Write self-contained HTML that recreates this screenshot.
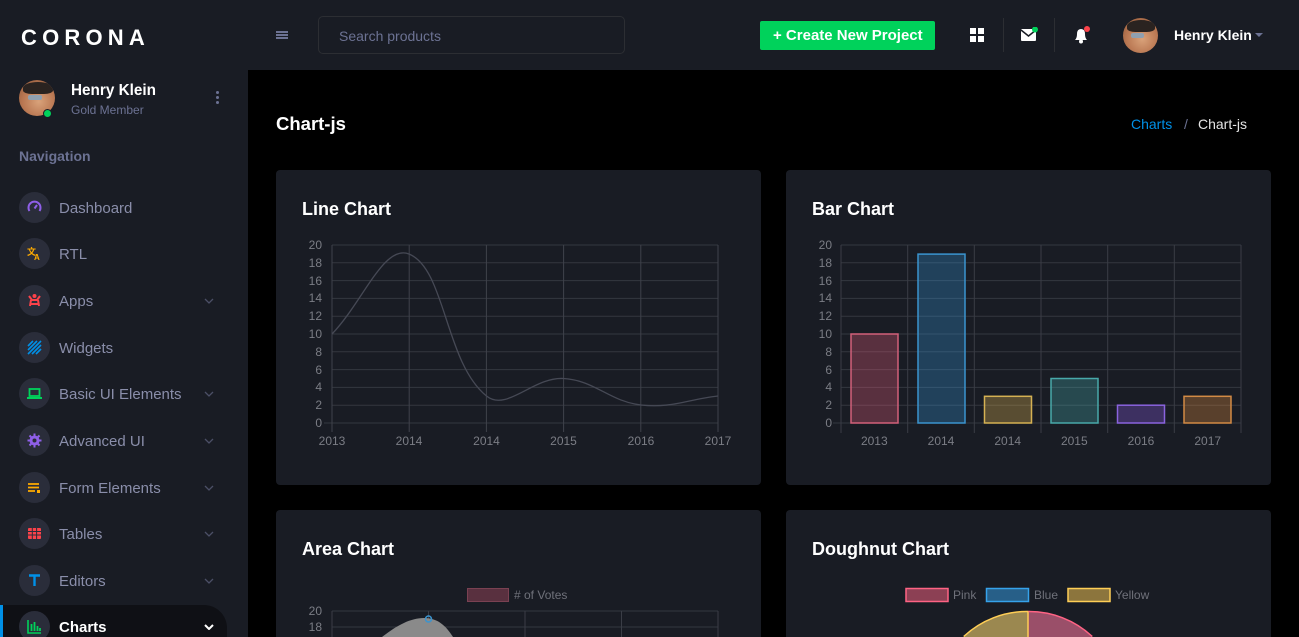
<!DOCTYPE html>
<html>
<head>
<meta charset="utf-8">
<style>
*{margin:0;padding:0;box-sizing:border-box}
html,body{width:1299px;height:637px;overflow:hidden;background:#000;font-family:"Liberation Sans",Arial,sans-serif;position:relative}
.abs{position:absolute}
#sidebar{left:0;top:0;width:248px;height:637px;background:#191c24;overflow:hidden}
#navbar{left:248px;top:0;width:1051px;height:70px;background:#191c24}
.card{position:absolute;background:#191c24;border-radius:4px}
.t{position:absolute;white-space:nowrap;line-height:1}
.nav-item{position:absolute;left:0;width:248px;height:46px;overflow:hidden}
.nav-ic{position:absolute;left:19px;top:7px;width:31px;height:31px;border-radius:50%;background:#2a2d3a}
.nav-ic svg{position:absolute;left:8px;top:8px}
.nav-tx{position:absolute;left:59px;top:15px;font-size:15px;color:#8a8eaa}
.chev{position:absolute;left:204px;top:20px}
</style>
</head>
<body>
<div id="sidebar" class="abs">
  <div class="t" style="left:21px;top:27px;font-size:22px;font-weight:bold;color:#fff;letter-spacing:5.2px">CORONA</div>
  <div class="abs" style="left:19px;top:80px;width:36px;height:36px;border-radius:50%;background:radial-gradient(circle at 55% 60%,#d9a27a 0,#b97752 55%,#8a5536 100%);overflow:hidden">
    <div class="abs" style="left:4px;top:2px;width:30px;height:12px;border-radius:50% 50% 30% 30%;background:#2a2320"></div>
    <div class="abs" style="left:9px;top:15px;width:14px;height:5px;border-radius:2px;background:#8fa0b0"></div>
  </div>
  <div class="abs" style="left:43px;top:109px;width:9px;height:9px;border-radius:50%;background:#00d25b;border:1px solid #191c24"></div>
  <div class="t" style="left:71px;top:83px;font-size:15.3px;font-weight:bold;color:#fff">Henry Klein</div>
  <div class="t" style="left:71px;top:104px;font-size:12px;color:#6c7293">Gold Member</div>
  <div class="abs" style="left:216px;top:91px;width:3px;height:3px;border-radius:50%;background:#6c7293;box-shadow:0 5px 0 #6c7293,0 10px 0 #6c7293"></div>
  <div class="t" style="left:19px;top:149px;font-size:14px;font-weight:bold;color:#6c7293">Navigation</div>

  <div class="nav-item" style="top:185px"><div class="nav-ic"><svg width="15" height="15" viewBox="0 0 15 15"><path d="M2.5 11 A6 6 0 1 1 12.5 11" fill="none" stroke="#8f5fe8" stroke-width="2"/><line x1="7.5" y1="8.5" x2="10" y2="5" stroke="#8f5fe8" stroke-width="2"/></svg></div><div class="nav-tx">Dashboard</div></div>
  <div class="nav-item" style="top:231px"><div class="nav-ic"><svg width="15" height="15" viewBox="0 0 15 15"><text x="0" y="9" font-size="9" font-weight="bold" fill="#ffab00" font-family="Noto Sans CJK SC, sans-serif">文</text><text x="7" y="14" font-size="8" font-weight="bold" fill="#ffab00" font-family="Liberation Sans">A</text></svg></div><div class="nav-tx">RTL</div></div>
  <div class="nav-item" style="top:278px"><div class="nav-ic"><svg width="15" height="15" viewBox="0 0 15 15"><circle cx="7.5" cy="3" r="2" fill="#fc424a"/><path d="M2 3 L5 7 L10 7 L13 3 M4 7 L3 13 M11 7 L12 13 M4 11 H11" stroke="#fc424a" stroke-width="2" fill="none"/></svg></div><div class="nav-tx">Apps</div><svg class="chev" width="10" height="6"><polyline points="1,1 5,5 9,1" fill="none" stroke="#4b4f66" stroke-width="1.3"/></svg></div>
  <div class="nav-item" style="top:325px"><div class="nav-ic"><svg width="15" height="15" viewBox="0 0 15 15"><path d="M1 6 L6 1 M1 10 L10 1 M1 14 L14 1 M5 14 L14 5 M9 14 L14 9" stroke="#0090e7" stroke-width="1.6"/></svg></div><div class="nav-tx">Widgets</div></div>
  <div class="nav-item" style="top:371px"><div class="nav-ic"><svg width="15" height="15" viewBox="0 0 15 15"><rect x="2.5" y="3" width="10" height="7" fill="none" stroke="#00d25b" stroke-width="1.8"/><rect x="0" y="11" width="15" height="2" fill="#00d25b"/></svg></div><div class="nav-tx">Basic UI Elements</div><svg class="chev" width="10" height="6"><polyline points="1,1 5,5 9,1" fill="none" stroke="#4b4f66" stroke-width="1.3"/></svg></div>
  <div class="nav-item" style="top:418px"><div class="nav-ic"><svg width="15" height="15" viewBox="0 0 15 15"><circle cx="7.5" cy="7.5" r="5" fill="#8f5fe8"/><path d="M7.5 0.5 V14.5 M0.5 7.5 H14.5 M2.5 2.5 L12.5 12.5 M12.5 2.5 L2.5 12.5" stroke="#8f5fe8" stroke-width="2"/><circle cx="7.5" cy="7.5" r="2" fill="#2a2d3a"/></svg></div><div class="nav-tx">Advanced UI</div><svg class="chev" width="10" height="6"><polyline points="1,1 5,5 9,1" fill="none" stroke="#4b4f66" stroke-width="1.3"/></svg></div>
  <div class="nav-item" style="top:465px"><div class="nav-ic"><svg width="15" height="15" viewBox="0 0 15 15"><path d="M1 4 H12 M1 7.5 H12 M1 11 H8" stroke="#ffab00" stroke-width="1.8"/><rect x="10" y="10" width="3" height="3" fill="#ffab00"/></svg></div><div class="nav-tx">Form Elements</div><svg class="chev" width="10" height="6"><polyline points="1,1 5,5 9,1" fill="none" stroke="#4b4f66" stroke-width="1.3"/></svg></div>
  <div class="nav-item" style="top:511px"><div class="nav-ic"><svg width="15" height="15" viewBox="0 0 15 15"><rect x="1" y="2" width="13" height="11" rx="1" fill="#fc424a"/><path d="M1 5.5 H14 M1 9 H14 M5.3 2 V13 M9.6 2 V13" stroke="#2a2d3a" stroke-width="1"/></svg></div><div class="nav-tx">Tables</div><svg class="chev" width="10" height="6"><polyline points="1,1 5,5 9,1" fill="none" stroke="#4b4f66" stroke-width="1.3"/></svg></div>
  <div class="nav-item" style="top:558px"><div class="nav-ic"><svg width="15" height="15" viewBox="0 0 15 15"><path d="M2 2.5 H13 M7.5 2.5 V13" stroke="#0090e7" stroke-width="2.4"/></svg></div><div class="nav-tx">Editors</div><svg class="chev" width="10" height="6"><polyline points="1,1 5,5 9,1" fill="none" stroke="#4b4f66" stroke-width="1.3"/></svg></div>
  <div class="abs" style="left:0;top:605px;width:227px;height:32px;background:#0f1015;border-radius:0 23px 0 0"></div>
  <div class="abs" style="left:0;top:605px;width:3px;height:32px;background:#0090e7"></div>
  <div class="nav-item" style="top:604px;height:33px"><div class="nav-ic"><svg width="15" height="15" viewBox="0 0 15 15"><path d="M1 1 V14 H14" stroke="#00d25b" stroke-width="1.6" fill="none"/><path d="M4.5 12 V5 M7.5 12 V3 M10.5 12 V7 M13 12 V9" stroke="#00d25b" stroke-width="1.8"/></svg></div><div class="nav-tx" style="color:#fff;font-weight:bold">Charts</div><svg class="chev" width="10" height="6"><polyline points="1,1 5,5 9,1" fill="none" stroke="#fff" stroke-width="2"/></svg></div>
</div>

<div id="navbar" class="abs">
  <div class="abs" style="left:28px;top:31px;width:12px;height:2px;background:#6c7293;box-shadow:0 3px 0 #6c7293,0 6px 0 #6c7293"></div>
  <div class="abs" style="left:70px;top:16px;width:307px;height:38px;border:1px solid #2c2e33;border-radius:5px"></div>
  <div class="t" style="left:91px;top:29px;font-size:14px;color:#6c7293">Search products</div>
  <div class="abs" style="left:512px;top:21px;width:175px;height:29px;background:#00d25b;border-radius:2px"></div>
  <div class="t" style="left:525px;top:28px;font-size:15px;font-weight:bold;color:#fff">+ Create New Project</div>
  <div class="abs" style="left:722px;top:28px;width:6px;height:6px;background:#fff;box-shadow:8px 0 0 #fff,0 8px 0 #fff,8px 8px 0 #fff"></div>
  <div class="abs" style="left:755px;top:18px;width:1px;height:34px;background:#2c2e33"></div>
  <svg class="abs" style="left:772px;top:27px" width="18" height="16"><rect x="1" y="2" width="15" height="12" rx="1" fill="#fff"/><polyline points="1,3 8.5,9 16,3" fill="none" stroke="#191c24" stroke-width="1.5"/><circle cx="15" cy="2.5" r="3" fill="#00d25b"/></svg>
  <div class="abs" style="left:806px;top:18px;width:1px;height:34px;background:#2c2e33"></div>
  <svg class="abs" style="left:824px;top:25px" width="20" height="20"><path d="M3 15 Q5 13 5 9 Q5 4 9 4 Q13 4 13 9 Q13 13 15 15 Z" fill="#fff"/><circle cx="9" cy="16.5" r="2" fill="#fff"/><circle cx="15" cy="4" r="3" fill="#fc424a"/></svg>
  <div class="abs" style="left:875px;top:18px;width:35px;height:35px;border-radius:50%;background:radial-gradient(circle at 55% 60%,#d9a27a 0,#b97752 55%,#8a5536 100%);overflow:hidden">
    <div class="abs" style="left:4px;top:2px;width:28px;height:12px;border-radius:50% 50% 30% 30%;background:#2a2320"></div>
    <div class="abs" style="left:8px;top:15px;width:13px;height:5px;border-radius:2px;background:#8fa0b0"></div>
  </div>
  <div class="t" style="left:926px;top:28px;font-size:14px;font-weight:bold;color:#fff">Henry Klein</div>
  <svg class="abs" style="left:1007px;top:33px" width="8" height="5"><polygon points="0,0 8,0 4,4" fill="#6c7293"/></svg>
</div>

<div class="t" style="left:276px;top:115px;font-size:18.5px;font-weight:bold;color:#fff">Chart-js</div>
<div class="t" style="left:1131px;top:117px;font-size:14px;color:#0090e7">Charts</div>
<div class="t" style="left:1184px;top:117px;font-size:14px;color:#6c7293">/</div>
<div class="t" style="left:1198px;top:117px;font-size:14px;color:#e4e4e4">Chart-js</div>

<div class="card" style="left:276px;top:170px;width:485px;height:315px"></div>
<div class="card" style="left:786px;top:170px;width:485px;height:315px"></div>
<div class="card" style="left:276px;top:510px;width:485px;height:127px;border-radius:4px 4px 0 0"></div>
<div class="card" style="left:786px;top:510px;width:485px;height:127px;border-radius:4px 4px 0 0"></div>
<div class="t" style="left:302px;top:200px;font-size:18px;font-weight:bold;color:#fff">Line Chart</div>
<div class="t" style="left:812px;top:200px;font-size:18px;font-weight:bold;color:#fff">Bar Chart</div>
<div class="t" style="left:302px;top:540px;font-size:18px;font-weight:bold;color:#fff">Area Chart</div>
<div class="t" style="left:812px;top:540px;font-size:18px;font-weight:bold;color:#fff">Doughnut Chart</div>

<svg class="abs" style="left:0;top:0" width="1299" height="637" font-family="Liberation Sans, Arial, sans-serif" font-size="12">
  <g stroke="#34373f" stroke-width="1">
    <line x1="332" y1="245" x2="718" y2="245"/><line x1="332" y1="262.8" x2="718" y2="262.8"/>
    <line x1="332" y1="280.6" x2="718" y2="280.6"/><line x1="332" y1="298.4" x2="718" y2="298.4"/>
    <line x1="332" y1="316.2" x2="718" y2="316.2"/><line x1="332" y1="334" x2="718" y2="334"/>
    <line x1="332" y1="351.8" x2="718" y2="351.8"/><line x1="332" y1="369.6" x2="718" y2="369.6"/>
    <line x1="332" y1="387.4" x2="718" y2="387.4"/><line x1="332" y1="405.2" x2="718" y2="405.2"/>
    <line x1="324" y1="423" x2="718" y2="423"/>
  </g>
  <g stroke="#3f424b" stroke-width="1">
    <line x1="332" y1="245" x2="332" y2="432"/><line x1="409.2" y1="245" x2="409.2" y2="432"/>
    <line x1="486.4" y1="245" x2="486.4" y2="432"/><line x1="563.6" y1="245" x2="563.6" y2="432"/>
    <line x1="640.8" y1="245" x2="640.8" y2="432"/><line x1="718" y1="245" x2="718" y2="432"/>
  </g>
  <path d="M332,334 C362.8,302 383.8,243.9 409,254 C445.6,268.7 444.9,362.5 486.5,396 C506.7,412.3 533.2,376.7 563.5,378.5 C595,380.3 609.2,401.4 641,405 C671,408.4 687.2,399.6 718,396" fill="none" stroke="#464955" stroke-width="1.3"/>
  <g fill="#7b7d85" text-anchor="end">
    <text x="322" y="249">20</text><text x="322" y="267">18</text><text x="322" y="285">16</text>
    <text x="322" y="302">14</text><text x="322" y="320">12</text><text x="322" y="338">10</text>
    <text x="322" y="356">8</text><text x="322" y="374">6</text><text x="322" y="391">4</text>
    <text x="322" y="409">2</text><text x="322" y="427">0</text>
  </g>
  <g fill="#7b7d85" text-anchor="middle">
    <text x="332" y="445">2013</text><text x="409" y="445">2014</text><text x="486.5" y="445">2014</text>
    <text x="563.5" y="445">2015</text><text x="641" y="445">2016</text><text x="718" y="445">2017</text>
  </g>

  <g stroke="#34373f" stroke-width="1">
    <line x1="841" y1="245" x2="1241" y2="245"/><line x1="841" y1="262.8" x2="1241" y2="262.8"/>
    <line x1="841" y1="280.6" x2="1241" y2="280.6"/><line x1="841" y1="298.4" x2="1241" y2="298.4"/>
    <line x1="841" y1="316.2" x2="1241" y2="316.2"/><line x1="841" y1="334" x2="1241" y2="334"/>
    <line x1="841" y1="351.8" x2="1241" y2="351.8"/><line x1="841" y1="369.6" x2="1241" y2="369.6"/>
    <line x1="841" y1="387.4" x2="1241" y2="387.4"/><line x1="841" y1="405.2" x2="1241" y2="405.2"/>
    <line x1="833" y1="423" x2="1241" y2="423"/>
  </g>
  <g stroke="#3a3d46" stroke-width="1">
    <line x1="841" y1="245" x2="841" y2="433"/><line x1="907.7" y1="245" x2="907.7" y2="433"/>
    <line x1="974.3" y1="245" x2="974.3" y2="433"/><line x1="1041" y1="245" x2="1041" y2="433"/>
    <line x1="1107.7" y1="245" x2="1107.7" y2="433"/><line x1="1174.3" y1="245" x2="1174.3" y2="433"/>
    <line x1="1241" y1="245" x2="1241" y2="433"/>
  </g>
  <rect x="851" y="334" width="47" height="89" fill="rgba(255,99,132,0.28)" stroke="#d2607a" stroke-width="1.5"/>
  <rect x="918" y="254.1" width="47" height="168.9" fill="rgba(54,162,235,0.28)" stroke="#3a94cf" stroke-width="1.5"/>
  <rect x="984.5" y="396.3" width="47" height="26.7" fill="rgba(255,206,86,0.28)" stroke="#d5b153" stroke-width="1.5"/>
  <rect x="1051" y="378.5" width="47" height="44.5" fill="rgba(75,192,192,0.28)" stroke="#48a9aa" stroke-width="1.5"/>
  <rect x="1117.5" y="405.2" width="47" height="17.8" fill="rgba(153,102,255,0.28)" stroke="#8a63de" stroke-width="1.5"/>
  <rect x="1184" y="396.3" width="47" height="26.7" fill="rgba(255,159,64,0.28)" stroke="#d28a45" stroke-width="1.5"/>
  <g fill="#7b7d85" text-anchor="end">
    <text x="832" y="249">20</text><text x="832" y="267">18</text><text x="832" y="285">16</text>
    <text x="832" y="302">14</text><text x="832" y="320">12</text><text x="832" y="338">10</text>
    <text x="832" y="356">8</text><text x="832" y="374">6</text><text x="832" y="391">4</text>
    <text x="832" y="409">2</text><text x="832" y="427">0</text>
  </g>
  <g fill="#7b7d85" text-anchor="middle">
    <text x="874.3" y="445">2013</text><text x="941" y="445">2014</text><text x="1007.7" y="445">2014</text>
    <text x="1074.3" y="445">2015</text><text x="1141" y="445">2016</text><text x="1207.7" y="445">2017</text>
  </g>

  <rect x="467.5" y="588.5" width="41" height="13" fill="rgba(255,99,132,0.28)" stroke="#7a4152" stroke-width="1"/>
  <text x="514" y="599" fill="#6f717a"># of Votes</text>
  <g stroke="#34373f" stroke-width="1">
    <line x1="332" y1="611" x2="718" y2="611"/><line x1="332" y1="627" x2="718" y2="627"/>
  </g>
  <g stroke="#3a3d46" stroke-width="1">
    <line x1="332" y1="611" x2="332" y2="637"/><line x1="428.5" y1="611" x2="428.5" y2="637"/>
    <line x1="525" y1="611" x2="525" y2="637"/><line x1="621.5" y1="611" x2="621.5" y2="637"/>
    <line x1="718" y1="611" x2="718" y2="637"/>
  </g>
  <path d="M382,637 C396,626 410,618 424,618 C438,618 446,626 453,637 Z" fill="#8a8a8a"/>
  <circle cx="428.5" cy="619" r="3" fill="none" stroke="#3a94cf" stroke-width="1.5"/>
  <g fill="#7b7d85" text-anchor="end">
    <text x="322" y="615">20</text><text x="322" y="631">18</text>
  </g>

  <rect x="906" y="588.5" width="42" height="13" fill="rgba(255,99,132,0.5)" stroke="#ff6384" stroke-width="1.5"/>
  <text x="953" y="599" fill="#6f717a">Pink</text>
  <rect x="986.5" y="588.5" width="42" height="13" fill="rgba(54,162,235,0.5)" stroke="#36a2eb" stroke-width="1.5"/>
  <text x="1034" y="599" fill="#6f717a">Blue</text>
  <rect x="1068" y="588.5" width="42" height="13" fill="rgba(255,206,86,0.5)" stroke="#ffce56" stroke-width="1.5"/>
  <text x="1115" y="599" fill="#6f717a">Yellow</text>
  <path d="M1028,637 L1028,611.5 A92.5,92.5 0 0 1 1092.3,637 Z" fill="#9a4f69"/>
  <path d="M1028,637 L963.7,637 A92.5,92.5 0 0 1 1028,611.5 Z" fill="#9b8850"/>
  <path d="M1028,611.5 A92.5,92.5 0 0 1 1092.3,636.5" fill="none" stroke="#ff6384" stroke-width="1.5"/>
  <path d="M963.7,636.5 A92.5,92.5 0 0 1 1028,611.5" fill="none" stroke="#ffce56" stroke-width="1.5"/>
  <line x1="1028" y1="611.5" x2="1028" y2="637" stroke="#ffce56" stroke-width="1.5"/>
</svg>
</body>
</html>
